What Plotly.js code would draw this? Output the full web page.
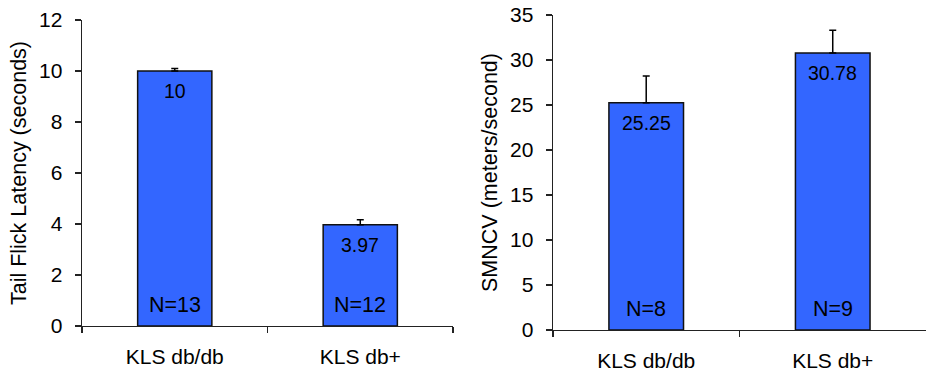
<!DOCTYPE html>
<html><head><meta charset="utf-8">
<script src="https://cdn.plot.ly/plotly-3.0.1.min.js"></script>
<style>html,body{margin:0;padding:0;background:#fff}#chart{width:931px;height:373px}</style>
</head><body><div id="chart"></div>
<script>
const categories = ["KLS db/db", "KLS db+"];
const latencyValues = [10, 3.97];
const latencyErrors = [0.1, 0.2];
const latencyN = ["N=13", "N=12"];
const smncvValues = [25.25, 30.78];
const smncvErrors = [2.97, 2.52];
const smncvN = ["N=8", "N=9"];
const latencyTicks = [0, 2, 4, 6, 8, 10, 12];
const smncvTicks = [0, 5, 10, 15, 20, 25, 30, 35];

const FONT = "Liberation Sans, Arial, sans-serif";
const barColor = "#3366FF";

function barTrace(vals, errs, xa, ya) {
  return {
    type: "bar", x: categories, y: vals, xaxis: xa, yaxis: ya, width: 0.4,
    marker: {color: barColor, line: {color: "#111", width: 1.5}},
    error_y: {type: "data", symmetric: false, array: errs, arrayminus: vals.map(() => 0),
      color: "#000", thickness: 1.5, width: 3.5},
    hoverinfo: "skip", showlegend: false
  };
}

const data = [
  barTrace(latencyValues, latencyErrors, "x", "y"),
  barTrace(smncvValues, smncvErrors, "x2", "y2")
];

const annotations = [];
function addLabels(vals, ns, xr, yr) {
  categories.forEach((c, i) => {
    annotations.push({x: c, y: vals[i], xref: xr, yref: yr, text: String(vals[i]),
      showarrow: false, yanchor: "top", yshift: -7, font: {family: FONT, size: 19.5, color: "#000"}});
    annotations.push({x: c, y: 0, xref: xr, yref: yr, text: ns[i],
      showarrow: false, yanchor: "bottom", yshift: 7, font: {family: FONT, size: 21.5, color: "#000"}});
  });
}
addLabels(latencyValues, latencyN, "x", "y");
addLabels(smncvValues, smncvN, "x2", "y2");

const axCommon = {
  showline: true, linecolor: "#222", linewidth: 1.4, showgrid: false, zeroline: false,
  ticks: "outside", ticklen: 6, tickcolor: "#222", tickwidth: 1.4,
  tickfont: {family: FONT, size: 21, color: "#000"}
};

const layout = {
  width: 931, height: 373,
  margin: {l: 82, r: 5, t: 15, b: 43},
  paper_bgcolor: "#fff", plot_bgcolor: "#fff",
  font: {family: FONT, color: "#000"},
  xaxis: Object.assign({}, axCommon, {domain: [0, 0.4396], range: [-0.5, 1.5], tickson: "boundaries",
    type: "category", ticklabelstandoff: 11, anchor: "y"}),
  yaxis: Object.assign({}, axCommon, {domain: [0.0127, 0.984], range: [0, 12], tickvals: latencyTicks,
    ticklabelstandoff: 8, anchor: "x",
    title: {text: "Tail Flick Latency (seconds)", font: {family: FONT, size: 21.5, color: "#000"}, standoff: 6}}),
  xaxis2: Object.assign({}, axCommon, {domain: [0.558, 1.0], range: [-0.5, 1.5], tickson: "boundaries",
    type: "category", ticklabelstandoff: 11, anchor: "y2"}),
  yaxis2: Object.assign({}, axCommon, {domain: [0, 1], range: [0, 35], tickvals: smncvTicks,
    ticklabelstandoff: 8, anchor: "x2",
    title: {text: "SMNCV (meters/second)", font: {family: FONT, size: 21.5, color: "#000"}, standoff: 6}}),
  annotations: annotations,
  bargap: 0.6
};

Plotly.newPlot("chart", data, layout, {staticPlot: true, displayModeBar: false});
</script>
</body></html>
